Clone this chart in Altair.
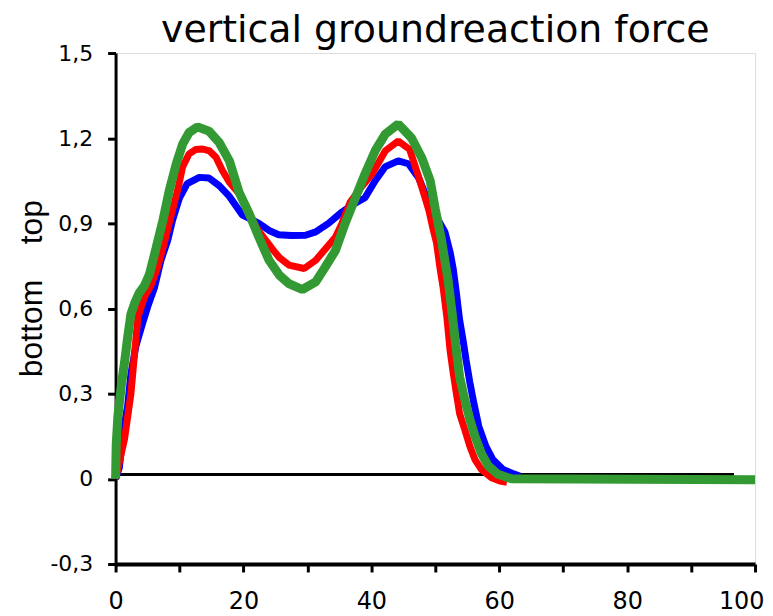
import altair as alt
import pandas as pd

# ---- data ----
blue_x = [0, 0.6, 1.15, 1.9, 2.4, 3.2, 4.25, 5, 6.1, 7.1, 8.15, 8.9, 10, 11.2, 13.1, 14.6, 16.2, 17.8,
          19.8, 22.4, 24, 25.5, 27.5, 29.7, 31.3, 33.3, 35.4, 37, 39, 40.6, 42.2, 44.2, 45.8, 47.4,
          48.4, 49.4, 50.5, 51.5, 52.3, 52.8, 53.3, 53.8, 54.4, 54.8, 55.4, 56.0, 56.8, 57.9, 59.0,
          60.6, 62.0, 63.2]
blue_y = [0, 0.04, 0.16, 0.26, 0.37, 0.47, 0.55, 0.605, 0.675, 0.77, 0.84, 0.91, 0.99, 1.04, 1.062,
          1.06, 1.033, 0.995, 0.93, 0.90, 0.875, 0.86, 0.857, 0.858, 0.87, 0.90, 0.94, 0.965, 0.99,
          1.05, 1.10, 1.12, 1.11, 1.06, 1.005, 0.95, 0.91, 0.87, 0.80, 0.74, 0.654, 0.56, 0.48,
          0.42, 0.34, 0.27, 0.185, 0.115, 0.068, 0.033, 0.02, 0.01]

red_x = [0, 0.5, 1.0, 1.4, 1.9, 2.4, 3.0, 3.5, 4.5, 5.5, 6.5, 7.6, 8.7, 9.7, 10.5, 11.5, 12.5, 13.6,
         14.7, 15.7, 16.7, 17.8, 19.5, 21, 22.3, 23.5, 24.5, 25.6, 27.1, 29.5, 31.3, 32.8, 34.4,
         35.4, 36.7, 38.5, 40.1, 42.2, 44.2, 46, 47.3, 48.4, 49, 49.7, 50.2, 50.7, 51.2, 51.8,
         52.3, 52.8, 53.3, 53.8, 54.6, 55.4, 56.2, 57.2, 58.8, 60.1, 61.2]
red_y = [0, 0.05, 0.10, 0.14, 0.22, 0.30, 0.45, 0.57, 0.64, 0.68, 0.74, 0.83, 0.93, 1.016, 1.10,
         1.145, 1.16, 1.162, 1.155, 1.133, 1.086, 1.045, 1.0, 0.93, 0.875, 0.84, 0.81, 0.78, 0.753,
         0.741, 0.77, 0.81, 0.852, 0.90, 0.975, 1.03, 1.074, 1.156, 1.19, 1.16, 1.07, 0.99, 0.945,
         0.875, 0.83, 0.747, 0.677, 0.571, 0.454, 0.373, 0.30, 0.23, 0.174, 0.115, 0.068, 0.033,
         0.004, -0.008, -0.012]

green_x = [0, 0.1, 0.36, 0.9, 1.4, 1.9, 2.4, 3.0, 3.7, 4.5, 5.3, 6.3, 7.4, 8.4, 9.5, 10.5, 11.5,
           12.8, 14.6, 16.2, 17.8, 19.3, 20.9, 22.4, 24, 25.6, 27.1, 29.2, 31.3, 32.8, 34.4, 35.9,
           37.5, 39, 40.6, 42.2, 44.2, 46.3, 47.9, 49.2, 50, 50.9, 52, 52.6, 53.2, 53.8, 54.6, 55.4,
           56.2, 57.2, 58.3, 59.8, 61.9, 100]
green_y = [0, 0.12, 0.22, 0.33, 0.41, 0.50, 0.58, 0.62, 0.655, 0.68, 0.72, 0.81, 0.91, 1.016, 1.11,
           1.18, 1.22, 1.24, 1.225, 1.185, 1.12, 1.01, 0.934, 0.852, 0.77, 0.718, 0.688, 0.667,
           0.694, 0.747, 0.805, 0.90, 0.99, 1.074, 1.156, 1.215, 1.25, 1.20, 1.13, 1.05, 0.95,
           0.85, 0.70, 0.59, 0.47, 0.36, 0.28, 0.21, 0.15, 0.09, 0.045, 0.016, 0, -0.003]

zero_line_x = [0.5, 96.7]
zero_line_y = [0.015, 0.015]

x_ticks = [0, 10, 20, 30, 40, 50, 60, 70, 80, 90, 100]
y_ticks = [-0.3, 0, 0.3, 0.6, 0.9, 1.2, 1.5]

series = [("blue", blue_x, blue_y, "#0000ff", 7),
          ("red", red_x, red_y, "#ff0000", 7),
          ("green", green_x, green_y, "#339933", 9)]

xscale = alt.Scale(domain=[0, 100], nice=False, zero=False)
yscale = alt.Scale(domain=[-0.3, 1.5], nice=False, zero=False)

xaxis = alt.Axis(values=x_ticks, labelExpr="datum.value % 20 == 0 ? datum.label : ''",
                 title=None, grid=False, domainColor="black", domainWidth=4,
                 tickColor="black", tickWidth=3, tickSize=8,
                 labelFont="DejaVu Sans", labelFontSize=24, labelColor="black",
                 labelPadding=18, labelFlush=False,
                 labelAlign={"condition": {"test": "datum.value == 100", "value": "right"},
                             "value": "center"},
                 labelOffset={"condition": {"test": "datum.value == 100", "value": 9},
                              "value": 0})
yaxis = alt.Axis(values=y_ticks,
                 labelExpr="datum.value == 0 ? '0' : replace(replace(format(datum.value, '.1f'), '.', ','), '\u2212', '-')",
                 title="bottom\u00a0\u00a0\u00a0\u00a0top", titleFont="Liberation Sans",
                 titleFontSize=32, titleFontWeight="normal", titleColor="black",
                 titleAngle=270, titleX=-74, titleY=236, titleBaseline="alphabetic",
                 titleAlign="center",
                 grid=False, domainColor="black", domainWidth=3,
                 tickColor="black", tickWidth=3, tickSize=8,
                 labelFont="DejaVu Sans", labelFontSize=22, labelColor="black",
                 labelPadding=15, labelFlush=False)

zero_df = pd.DataFrame({"x": zero_line_x, "y": zero_line_y})
base_zero = alt.Chart(zero_df).mark_line(color="black", strokeWidth=3).encode(
    x=alt.X("x:Q", scale=xscale, axis=xaxis),
    y=alt.Y("y:Q", scale=yscale, axis=yaxis),
)

layers = [base_zero]
for name, xs, ys, col, w in series:
    df = pd.DataFrame({"x": xs, "y": ys, "s": name})
    layers.append(
        alt.Chart(df).mark_line(color=col, strokeWidth=w, strokeJoin="bevel").encode(
            x=alt.X("x:Q", scale=xscale),
            y=alt.Y("y:Q", scale=yscale),
        )
    )

chart = alt.layer(*layers).properties(
    width=642, height=513,
    title=alt.TitleParams("vertical groundreaction force", font="DejaVu Sans", fontSize=38,
                          fontWeight="normal", color="black", anchor="middle", offset=-8),
    autosize=alt.AutoSizeParams(type="none"),
    padding={"left": 108, "top": 44, "right": 10, "bottom": 56},
).configure_view(stroke="black", strokeWidth=2).configure(background="white")

chart.save("out.html", embed_options={"renderer": "svg", "actions": False})
